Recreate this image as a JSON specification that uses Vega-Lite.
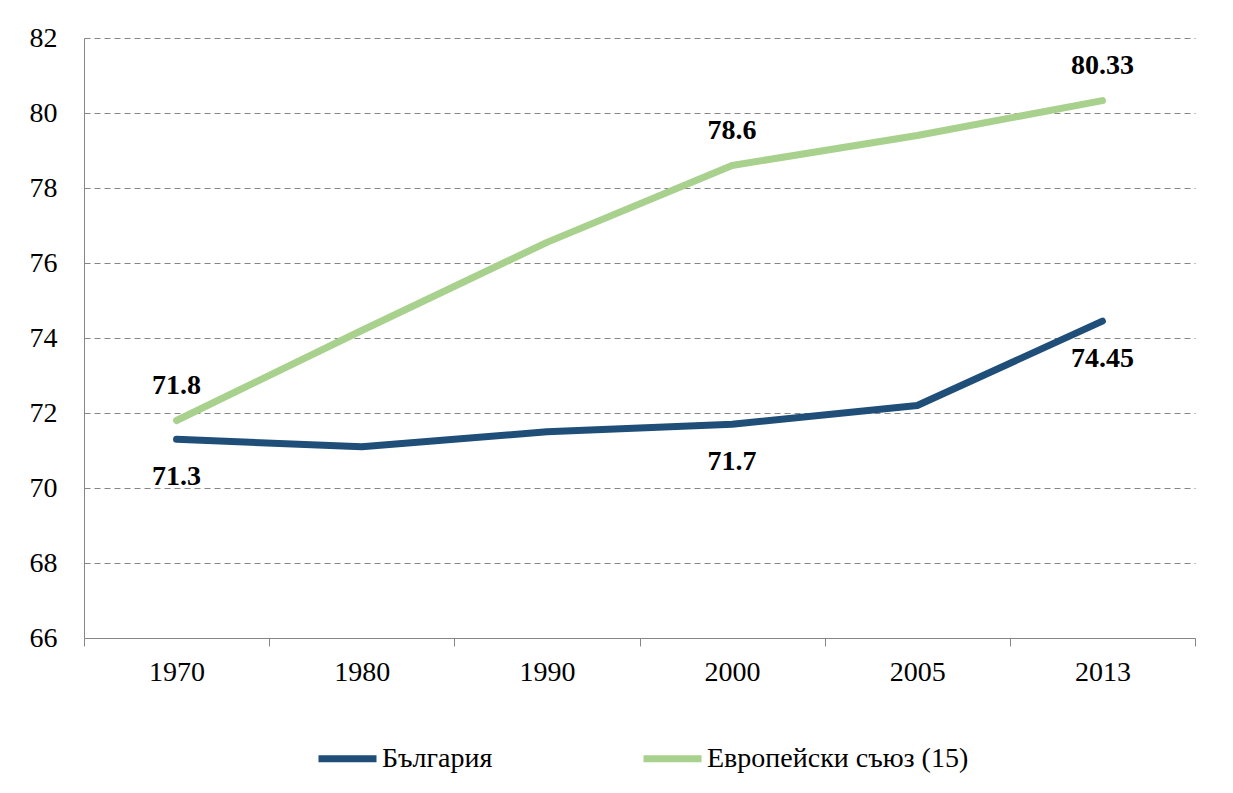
{
  "$schema": "https://vega.github.io/schema/vega-lite/v6.json",
  "width": 1111,
  "height": 600,
  "autosize": {"type": "none"},
  "padding": {"left": 84, "top": 38, "right": 38, "bottom": 155},
  "background": "white",
  "config": {"view": {"stroke": null}, "font": "Liberation Serif, Times New Roman, serif"},
  "data": {"values": [
    {"year": "1970", "series": "България", "value": 71.3},
    {"year": "1980", "series": "България", "value": 71.1},
    {"year": "1990", "series": "България", "value": 71.5},
    {"year": "2000", "series": "България", "value": 71.7},
    {"year": "2005", "series": "България", "value": 72.2},
    {"year": "2013", "series": "България", "value": 74.45},
    {"year": "1970", "series": "Европейски съюз (15)", "value": 71.8},
    {"year": "1980", "series": "Европейски съюз (15)", "value": 74.2},
    {"year": "1990", "series": "Европейски съюз (15)", "value": 76.55},
    {"year": "2000", "series": "Европейски съюз (15)", "value": 78.6},
    {"year": "2005", "series": "Европейски съюз (15)", "value": 79.4},
    {"year": "2013", "series": "Европейски съюз (15)", "value": 80.33}
  ]},
  "encoding": {
    "x": {
      "field": "year", "type": "ordinal", "sort": null, "bandPosition": 0.5,
      "scale": {"type": "band", "paddingInner": 0, "paddingOuter": 0},
      "axis": {
        "title": null, "labelAngle": 0, "labelFont": "Liberation Serif, Times New Roman, serif", "labelFontSize": 28, "labelColor": "black",
        "domainColor": "#868686", "tickColor": "#868686", "tickSize": 8,
        "tickBand": "extent", "labelPadding": 12, "grid": false
      }
    },
    "y": {
      "field": "value", "type": "quantitative",
      "scale": {"domain": [66, 82], "zero": false, "nice": false},
      "axis": {
        "title": null, "values": [66, 68, 70, 72, 74, 76, 78, 80, 82],
        "labelFont": "Liberation Serif, Times New Roman, serif", "labelFontSize": 28, "labelColor": "black", "ticks": false, "labelPadding": 27,
        "domainColor": "#868686", "grid": true, "gridColor": "#868686", "gridDash": [6, 4]
      }
    }
  },
  "layer": [
    {
      "mark": {"type": "line", "strokeWidth": 7, "strokeCap": "round", "strokeJoin": "round"},
      "encoding": {
        "color": {
          "field": "series", "type": "nominal",
          "scale": {"domain": ["България", "Европейски съюз (15)"], "range": ["#1f4e79", "#a9d18e"]},
          "legend": {
            "title": null, "orient": "none", "direction": "horizontal",
            "legendX": 231, "legendY": 688,
            "symbolType": "stroke", "symbolSize": 3364, "symbolStrokeWidth": 7,
            "labelFont": "Liberation Serif, Times New Roman, serif", "labelFontSize": 28, "labelColor": "black", "labelOffset": 2,
            "columnPadding": 136, "labelLimit": 400
          }
        }
      }
    },
    {
      "transform": [
        {"filter": "datum.series == 'Европейски съюз (15)'"},
        {"filter": {"field": "year", "oneOf": ["1970", "2000", "2013"]}}
      ],
      "mark": {"type": "text", "font": "Liberation Serif, Times New Roman, serif", "fontWeight": "bold", "fontSize": 28, "dy": -35, "baseline": "middle"},
      "encoding": {"text": {"field": "value", "type": "quantitative"}, "color": {"value": "black"}}
    },
    {
      "transform": [
        {"filter": "datum.series == 'България'"},
        {"filter": {"field": "year", "oneOf": ["1970", "2000", "2013"]}}
      ],
      "mark": {"type": "text", "font": "Liberation Serif, Times New Roman, serif", "fontWeight": "bold", "fontSize": 28, "dy": 38, "baseline": "middle"},
      "encoding": {"text": {"field": "value", "type": "quantitative"}, "color": {"value": "black"}}
    }
  ]
}
